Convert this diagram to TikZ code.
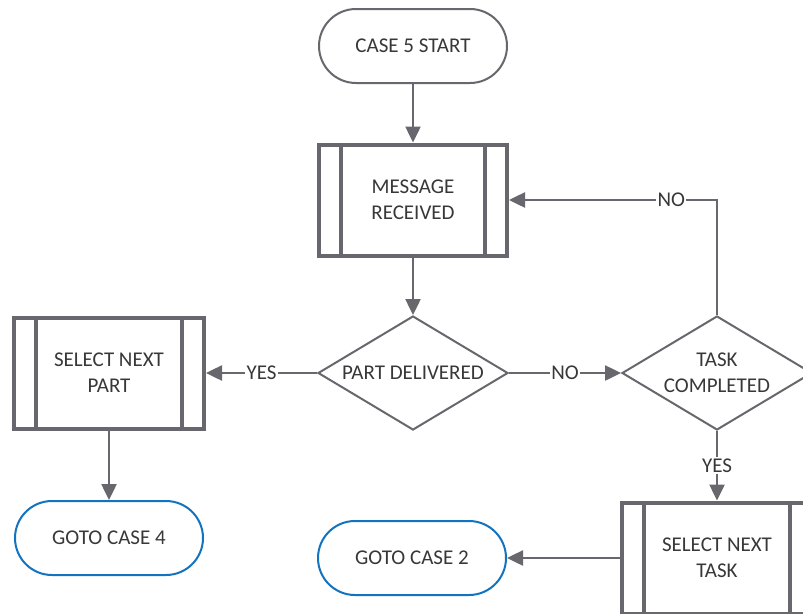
\documentclass[tikz,border=0pt]{standalone}
\usepackage{fontspec}
\setmainfont{Carlito}
\usepackage{xcolor}
\usepackage{tikz}
\usetikzlibrary{arrows.meta,shapes.geometric,calc}
\definecolor{linegray}{HTML}{68676D}
\definecolor{textgray}{HTML}{383838}
\definecolor{linkblue}{HTML}{1273C0}
\tikzset{
  terminal/.style={draw=linegray, line width=2pt, rounded corners=37pt, align=center, fill=white, text=textgray, minimum width=188pt, minimum height=74pt},
  gotobox/.style={terminal, draw=linkblue},
  predef/.style={draw=linegray, line width=4pt, align=center, fill=white, text=textgray, minimum width=188pt, minimum height=111pt},
  decision/.style={diamond, draw=linegray, line width=2pt, fill=white, inner sep=0pt, minimum width=190pt, minimum height=114pt, label={[text=textgray, align=center]center:#1}},
  arrow/.style={-{Triangle[length=16pt, width=15pt]}, line width=2.5pt, draw=linegray},
  answer/.style={fill=white, text=textgray, inner sep=1.5pt},
  sideline/.style={draw=linegray, line width=4pt}
}

\begin{document}
\begin{tikzpicture}[x=1pt, y=-1pt, font=\fontsize{21}{26}\selectfont]
  \useasboundingbox (0,0) rectangle (803,613);
  \clip (0,0) rectangle (803,613);

  \node[terminal] (start) at (413,46) {CASE 5 START};
  \node[predef] (msg) at (413,200) {MESSAGE\\RECEIVED};
  \node[decision={PART DELIVERED}] (pd) at (413,373) {};
  \node[predef, minimum width=190pt] (selpart) at (109,373) {SELECT NEXT\\PART};
  \node[gotobox] (goto4) at (109,538) {GOTO CASE 4};
  \node[decision={TASK\\COMPLETED}] (tc) at (717,373) {};
  \node[predef, minimum width=190pt] (seltask) at (717,558) {SELECT NEXT\\TASK};
  \node[gotobox] (goto2) at (412,558) {GOTO CASE 2};

  % double side bars of the predefined process boxes
  \foreach \n in {msg,selpart,seltask} {
    \draw[sideline] ($(\n.north west)+(24,0)$) -- ($(\n.south west)+(24,0)$);
    \draw[sideline] ($(\n.north east)+(-24,0)$) -- ($(\n.south east)+(-24,0)$);
  }

  \draw[arrow] (start) -- (msg);
  \draw[arrow] (msg) -- (pd);
  \draw[arrow] (pd.west) -- node[answer] {YES} (selpart.east);
  \draw[arrow] (selpart) -- (goto4);
  \draw[arrow] (pd.east) -- node[answer] {NO} (tc.west);
  \draw[arrow] (tc.north) |- node[answer, pos=0.61] {NO} (msg.east);
  \draw[arrow] (tc.south) -- node[answer] {YES} (seltask.north);
  \draw[arrow] (seltask.west) -- (goto2.east);
\end{tikzpicture}
\end{document}
